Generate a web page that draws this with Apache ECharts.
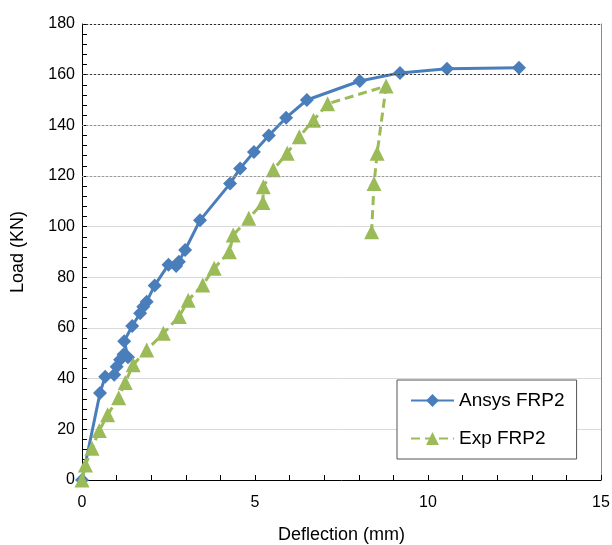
<!DOCTYPE html>
<html>
<head>
<meta charset="utf-8">
<script src="https://cdn.jsdelivr.net/npm/echarts@6/dist/echarts.min.js"></script>
<style>
  html, body { margin: 0; padding: 0; background: #ffffff; }
  #chart { width: 612px; height: 545px; }
</style>
</head>
<body>
<div id="chart"></div>
<script>
// Load–deflection response of beam FRP2: numerical (Ansys) vs. experimental
const ansysDeflection = [0, 0.52, 0.67, 0.93, 1.0, 1.1, 1.2, 1.33, 1.22, 1.45, 1.68, 1.77, 1.87, 2.1, 2.5, 2.72, 2.8, 2.98, 3.41, 4.28, 4.57, 4.97, 5.4, 5.9, 6.5, 8.03, 9.19, 10.55, 12.63];
const ansysLoad       = [0, 34.3, 40.8, 41.5, 44.7, 47.5, 49.5, 48.5, 54.8, 60.8, 65.8, 68.4, 70.4, 76.8, 85.0, 84.5, 86.2, 90.8, 102.5, 117.0, 123.0, 129.5, 136.0, 143.0, 150.0, 157.5, 160.7, 162.3, 162.7];

const expDeflection = [0, 0.1, 0.29, 0.5, 0.74, 1.06, 1.25, 1.48, 1.87, 2.35, 2.81, 3.07, 3.49, 3.82, 4.26, 4.37, 4.82, 5.23, 5.24, 5.53, 5.93, 6.28, 6.69, 7.1, 8.79, 8.53, 8.44, 8.37];
const expLoad       = [0, 5.9, 12.5, 19.5, 25.8, 32.5, 38.5, 45.5, 51.3, 57.9, 64.5, 71.0, 77.0, 83.6, 90.1, 96.7, 103.3, 109.5, 115.8, 122.5, 129.0, 135.5, 142.0, 148.5, 155.5, 129.0, 117.0, 98.0];

// upper load levels drawn as dotted reference lines
const dottedGridLoads  = [120, 140, 160, 180];
const dottedGridColors = ['#9a9a9a', '#8c8c8c', '#3c3c3c', '#2c2c2c'];

const FONT = "'Liberation Sans', Arial, sans-serif";
const BLUE = '#4a7ebb';
const GREEN = '#9bbb59';

const zip = (xs, ys) => xs.map((x, i) => [x, ys[i]]);

const chart = echarts.init(document.getElementById('chart'), null, { renderer: 'canvas' });

chart.setOption({
  backgroundColor: '#ffffff',
  animation: false,
  textStyle: { fontFamily: FONT, color: '#000' },
  grid: { left: 82, right: 11, top: 24, bottom: 65, outerBoundsMode: 'none' },
  legend: {
    left: 397,
    top: 380,
    orient: 'vertical',
    backgroundColor: '#ffffff',
    borderColor: '#555555',
    borderWidth: 1,
    padding: [11, 12, 11, 13],
    itemWidth: 43,
    itemHeight: 16,
    itemGap: 19,
    textStyle: { fontFamily: FONT, fontSize: 19, color: '#000' },
    data: ['Ansys FRP2', 'Exp FRP2']
  },
  xAxis: {
    type: 'value',
    min: 0,
    max: 15,
    interval: 5,
    name: 'Deflection (mm)',
    nameLocation: 'middle',
    nameGap: 46,
    nameTextStyle: { fontFamily: FONT, fontSize: 18, color: '#000' },
    axisLine: { lineStyle: { color: '#000', width: 1 } },
    axisTick: { inside: true, length: 5, lineStyle: { color: '#000' } },
    minorTick: { show: true, splitNumber: 5, length: 5, lineStyle: { color: '#000' } },
    splitLine: { show: false },
    axisLabel: { fontFamily: FONT, fontSize: 16, color: '#000', margin: 15 }
  },
  yAxis: [
    {
      type: 'value',
      min: 0,
      max: 180,
      interval: 20,
      name: 'Load (KN)',
      nameLocation: 'middle',
      nameGap: 55,
      nameTextStyle: { fontFamily: FONT, fontSize: 18, color: '#000' },
      axisLine: { show: true, lineStyle: { color: '#000', width: 1 } },
      axisTick: { show: true, inside: true, length: 5, lineStyle: { color: '#000' } },
      minorTick: { show: true, splitNumber: 5, length: 5, lineStyle: { color: '#000' } },
      splitLine: { show: true, lineStyle: { color: '#dadada', width: 1 } },
      axisLabel: { fontFamily: FONT, fontSize: 16, color: '#000', margin: 7 }
    },
    {
      type: 'value',
      min: 0,
      max: 180,
      position: 'right',
      axisLine: { show: true, lineStyle: { color: '#8a8a8a', width: 1 } },
      axisTick: { show: false },
      axisLabel: { show: false },
      splitLine: { show: false }
    }
  ],
  series: [
    {
      name: 'reference lines',
      type: 'line',
      data: [],
      silent: true,
      z: 1,
      markLine: {
        silent: true,
        symbol: ['none', 'none'],
        label: { show: false },
        animation: false,
        data: dottedGridLoads.map((v, i) => ({
          yAxis: v,
          lineStyle: { color: dottedGridColors[i], type: [2, 2], width: 1 }
        }))
      }
    },
    {
      name: 'Ansys FRP2',
      type: 'line',
      data: zip(ansysDeflection, ansysLoad),
      z: 3,
      color: BLUE,
      symbol: 'diamond',
      symbolSize: 14,
      showAllSymbol: true,
      lineStyle: { color: BLUE, width: 3 },
      itemStyle: { color: BLUE }
    },
    {
      name: 'Exp FRP2',
      type: 'line',
      data: zip(expDeflection, expLoad),
      z: 4,
      color: GREEN,
      symbol: 'triangle',
      symbolSize: 15,
      showAllSymbol: true,
      lineStyle: { color: GREEN, width: 3, type: [9, 5] },
      itemStyle: { color: GREEN }
    }
  ]
});
</script>
</body>
</html>
